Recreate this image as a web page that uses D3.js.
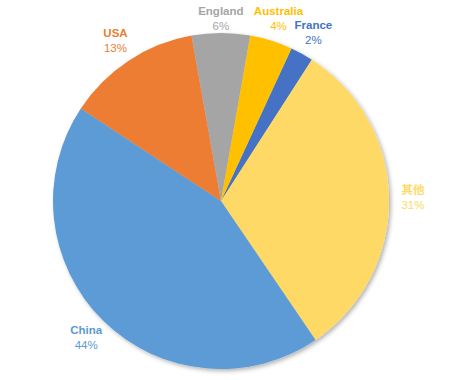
<!DOCTYPE html>
<html>
<head>
<meta charset="utf-8">
<script src="https://cdn.jsdelivr.net/npm/d3@7"></script>
<style>
  body { margin: 0; background: #fff; }
  .name { font-weight: bold; }
  text { font-family: "Liberation Sans", "Noto Sans CJK SC", sans-serif; font-size: 11.5px; }
</style>
</head>
<body>
<div id="chart"></div>
<script>
var svgwidth = 456;
var svgheight = 380;

// data, in drawing order (clockwise)
var countries = ["France", "其他", "China", "USA", "England", "Australia"];
var shares = [2.2, 31.4, 43.8, 12.9, 5.6, 4.1];
var colors = ["#4472C4", "#FFD966", "#5B9BD5", "#ED7D31", "#A5A5A5", "#FFC000"];

var cx = 221, cy = 201, radius = 168;
var startDeg = 24.8;

var svg = d3.select("#chart").append("svg").attr("width", svgwidth).attr("height", svgheight);

var defs = svg.append("defs");
var f = defs.append("filter").attr("id", "shadow").attr("x", "-20%").attr("y", "-20%").attr("width", "140%").attr("height", "140%");
f.append("feDropShadow").attr("dx", 2).attr("dy", 2).attr("stdDeviation", 2).attr("flood-color", "#000").attr("flood-opacity", 0.3);

var rows = countries.map(function(c, i) { return { name: c, value: shares[i], color: colors[i] }; });

var pie = d3.pie()
    .value(d => d.value)
    .sort(null)
    .startAngle(startDeg * Math.PI / 180)
    .endAngle(startDeg * Math.PI / 180 + 2 * Math.PI);

var arc = d3.arc().innerRadius(0).outerRadius(radius);
var labelArc = d3.arc().innerRadius(192).outerRadius(192);

var g = svg.append("g").attr("transform", "translate(" + cx + "," + cy + ")");

var arcs = pie(rows);

g.append("g").attr("filter", "url(#shadow)")
    .selectAll("path")
    .data(arcs)
    .enter()
    .append("path")
    .attr("d", arc)
    .attr("fill", d => d.data.color);

var labels = g.selectAll("g.lbl")
    .data(arcs)
    .enter()
    .append("g")
    .attr("class", "lbl")
    .attr("transform", function(d) {
        var c = labelArc.centroid(d);
        // keep labels inside the view
        var y = Math.max(c[1], 19 - cy);
        return "translate(" + c[0] + "," + y + ")";
    });

labels.append("text")
    .attr("class", "name")
    .attr("text-anchor", "middle")
    .attr("y", -4)
    .attr("fill", d => d.data.color)
    .text(d => d.data.name);

labels.append("text")
    .attr("text-anchor", "middle")
    .attr("y", 11)
    .attr("fill", d => d.data.color)
    .text(d => Math.round(d.data.value) + "%");
</script>
</body>
</html>
